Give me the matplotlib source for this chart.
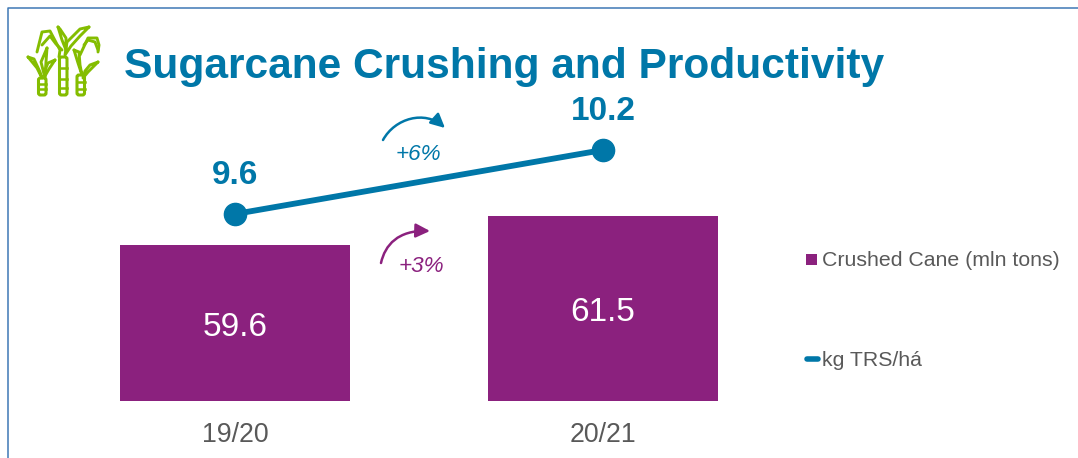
import matplotlib
matplotlib.use('Agg')
import matplotlib.pyplot as plt
from matplotlib.patches import FancyArrowPatch, FancyBboxPatch, Rectangle
from matplotlib.path import Path
from matplotlib.lines import Line2D

plt.rcParams['font.family'] = ['Liberation Sans', 'DejaVu Sans']

seasons = ['19/20', '20/21']
crushed_cane = [59.6, 61.5]
kg_trs = [9.6, 10.2]
cane_growth = '+3%'
trs_growth = '+6%'

PURPLE = '#8B217E'
BLUE = '#0077A8'
GREEN = '#84BD00'
GREY = '#595959'
W, H = 1078, 458

fig = plt.figure(figsize=(W / 100, H / 100), dpi=100)

# overlay in pixel coordinates for frame, title, icon and growth arrows
ov = fig.add_axes([0, 0, 1, 1], zorder=5)
ov.set_xlim(0, W)
ov.set_ylim(H, 0)
ov.axis('off')
ov.patch.set_alpha(0)

# slide frame, open at the right and bottom
ov.add_line(Line2D([7.5, 7.5, W], [H, 7.5, 7.5], color='#3F78B5', lw=1.1))

ov.text(123.5, 67, 'Sugarcane Crushing and Productivity', color=BLUE,
        fontsize=30.6, fontweight='bold', va='center', ha='left')

# sugarcane icon: three stalks with rings, then the leaves
stalks = [(38.5, 46, 78, 95, [84, 89]), (59.5, 67, 57, 95, [68, 79, 88]), (77, 84.5, 75, 95, [82, 89])]
for x0, x1, y0, y1, rings in stalks:
    ov.add_patch(FancyBboxPatch((x0, y0), x1 - x0, y1 - y0, boxstyle='round,pad=0,rounding_size=2',
                                fc='white', ec=GREEN, lw=2.2))
    for y in rings:
        ov.plot([x0, x1], [y, y], color=GREEN, lw=1.8)
leaves = [
    ([37, 42, 50, 60, 59], [52, 32, 31, 50, 57]),
    ([42, 50, 56, 62], [45, 36, 44, 50]),
    ([58, 60, 66, 66, 62, 58], [27, 29, 38, 50, 40, 27]),
    ([89, 80, 67, 65, 71, 80, 89], [27, 29, 42, 55, 46, 36, 27]),
    ([80, 88, 97, 99, 98], [55, 38, 38, 45, 52]),
    ([84, 88, 95, 98], [45, 40, 42, 50]),
    ([28, 34, 40, 42, 37, 28], [57, 59, 72, 78, 68, 57]),
    ([47, 44, 41, 45, 46, 47], [48, 55, 62, 78, 62, 48]),
    ([55, 48, 45, 45, 49, 55], [60, 63, 70, 76, 69, 60]),
    ([74, 79, 80, 82, 78, 74], [50, 52, 65, 75, 63, 50]),
    ([98, 90, 85, 83, 88, 98], [62, 65, 71, 78, 72, 62]),
]
for xs, ys in leaves:
    ov.plot(xs, ys, color=GREEN, lw=2.1, solid_joinstyle='round', solid_capstyle='round')

# bars, on a truncated value axis
ax = fig.add_axes([51 / W, 1 - 401 / H, 736 / W, 301 / H])
x = list(range(len(seasons)))
ax.bar(x, crushed_cane, width=230 / 368, color=PURPLE)
ax.set_xlim(-0.5, 1.5)
ax.set_ylim(49.38, 49.38 + 301 / 15.26)
ax.set_yticks([])
ax.set_xticks(x, seasons)
ax.tick_params(axis='x', length=0, pad=15, labelsize=19.2, labelcolor=GREY)
for s in ax.spines.values():
    s.set_visible(False)
ax.patch.set_alpha(0)
for i, v in zip(x, crushed_cane):
    ax.annotate(f'{v}', (i, 49.38 + (v - 49.38) / 2), xytext=(0, -4), textcoords='offset pixels',
                color='white', fontsize=24, ha='center', va='center')

# productivity line on its own axis
ax2 = ax.twinx()
ax2.plot(x, kg_trs, color=BLUE, lw=4.2, marker='o', ms=16, solid_capstyle='butt')
ax2.set_ylim(9.6 - 187 / 106.67, 9.6 - 187 / 106.67 + 301 / 106.67)
ax2.set_yticks([])
for s in ax2.spines.values():
    s.set_visible(False)
for i, v in zip(x, kg_trs):
    ax2.annotate(f'{v}', (i, v), xytext=(0, 23), textcoords='offset pixels', color=BLUE,
                 fontsize=24, fontweight='bold', ha='center', va='bottom')

# growth arrows and labels
curve = [Path.MOVETO, Path.CURVE4, Path.CURVE4, Path.CURVE4]
blue_arc = Path([(383, 140), (395, 118), (425, 110), (445, 128)], curve)
purple_arc = Path([(381, 263), (385, 245), (398, 230), (430, 231)], curve)
for arc, col in [(blue_arc, BLUE), (purple_arc, PURPLE)]:
    ov.add_patch(FancyArrowPatch(path=arc, arrowstyle='-|>,head_length=8.5,head_width=4.2',
                                 color=col, lw=1.8, mutation_scale=1, transform=ov.transData))
ov.text(418.5, 155, trs_growth, color=BLUE, fontsize=16.2, style='italic', ha='center', va='center')
ov.text(421, 267, cane_growth, color=PURPLE, fontsize=16.2, style='italic', ha='center', va='center')

# legend
ov.add_patch(Rectangle((806, 254), 11, 11, color=PURPLE, lw=0))
ov.text(822, 260, 'Crushed Cane (mln tons)', color=GREY, fontsize=15.3, va='center', ha='left')
ov.add_line(Line2D([807, 818], [358.5, 358.5], color=BLUE, lw=4, solid_capstyle='round'))
ov.text(822, 360, 'kg TRS/há', color=GREY, fontsize=15.3, va='center', ha='left')

fig.savefig('out.png', dpi=100)
